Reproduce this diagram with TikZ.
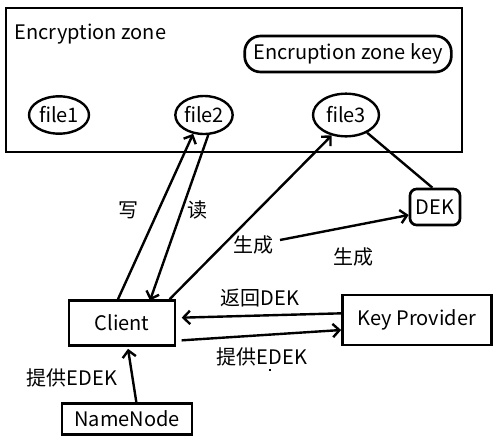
\documentclass[tikz,border=0pt]{standalone}
\usepackage{fontspec}
\setmainfont{Noto Sans CJK SC}
\usetikzlibrary{arrows.meta,shapes.geometric}

\tikzset{
  filenode/.style={draw, ellipse, inner sep=0pt, line width=1.8pt},
  boxnode/.style={draw, rectangle, inner sep=0pt, line width=2pt},
  link/.style={line width=1.8pt}
}

\begin{document}
\begin{tikzpicture}[x=0.75pt,y=-0.75pt,>={Straight Barb[length=5pt,width=10pt]},
  font=\fontsize{15}{17}\selectfont]

\useasboundingbox (0,0) rectangle (500,443);

% Encryption zone
\draw[line width=2.2pt] (6,8) rectangle (462,152);
\node[anchor=west] (zonetitle) at (10,34) {Encryption zone};
\node[boxnode, rounded corners=12pt, minimum width=155pt, minimum height=27pt] (zonekey) at (348,54) {Encruption zone key};

% Files
\node[filenode, minimum width=45pt, minimum height=28pt] (file1) at (59,115) {file1};
\node[filenode, minimum width=43pt, minimum height=28.5pt] (file2) at (204,115) {file2};
\node[filenode, minimum width=49.5pt, minimum height=32pt] (file3) at (346,115) {file3};

% Keys
\node[boxnode, rounded corners=5pt, minimum width=37.5pt, minimum height=27pt] (dek) at (435,207) {DEK};
\node[boxnode, minimum width=111.75pt, minimum height=37.5pt] (provider) at (417,320) {Key Provider};

% Client side
\node[boxnode, minimum width=79.5pt, minimum height=33.75pt] (client) at (122,323) {Client};
\node[boxnode, minimum width=97.5pt, minimum height=23.25pt] (namenode) at (127,419) {NameNode};

% Write and read
\draw[link,->] ([xshift=-3pt]client.north) -- (file2.240);
\draw[link,->] (file2.282) -- ([xshift=21pt,yshift=-1pt]client.north);
\node (write) at (128,210) {写};
\node (read) at (197,210) {读};

% Generate
\draw[link,->] ([xshift=-5pt]client.north east) -- (file3.235);
\draw[link] (file3.-40) -- ([xshift=-2pt]dek.north);
\coordinate (genstart) at (280,240);
\draw[link,->] (genstart) -- ([yshift=-6pt]dek.west);
\node (gen1) at (253,245) {生成};
\node (gen2) at (353,257) {生成};

% Key provider exchange
\draw[link,->] ([yshift=5pt]provider.west) -- ([xshift=4pt,yshift=4pt]client.east);
\draw[link,->] ([xshift=4pt,yshift=-13pt]client.east) -- ([yshift=-7.5pt]provider.west);
\node (back) at (260,298) {返回DEK};
\node (give1) at (262,357) {提供EDEK};
\fill (269,369) rectangle (271,371);

% NameNode
\draw[link,->] ([xshift=7pt]namenode.north) -- ([xshift=4.5pt,yshift=-1.5pt]client.south);
\node (give2) at (72,378) {提供EDEK};

\end{tikzpicture}
\end{document}
